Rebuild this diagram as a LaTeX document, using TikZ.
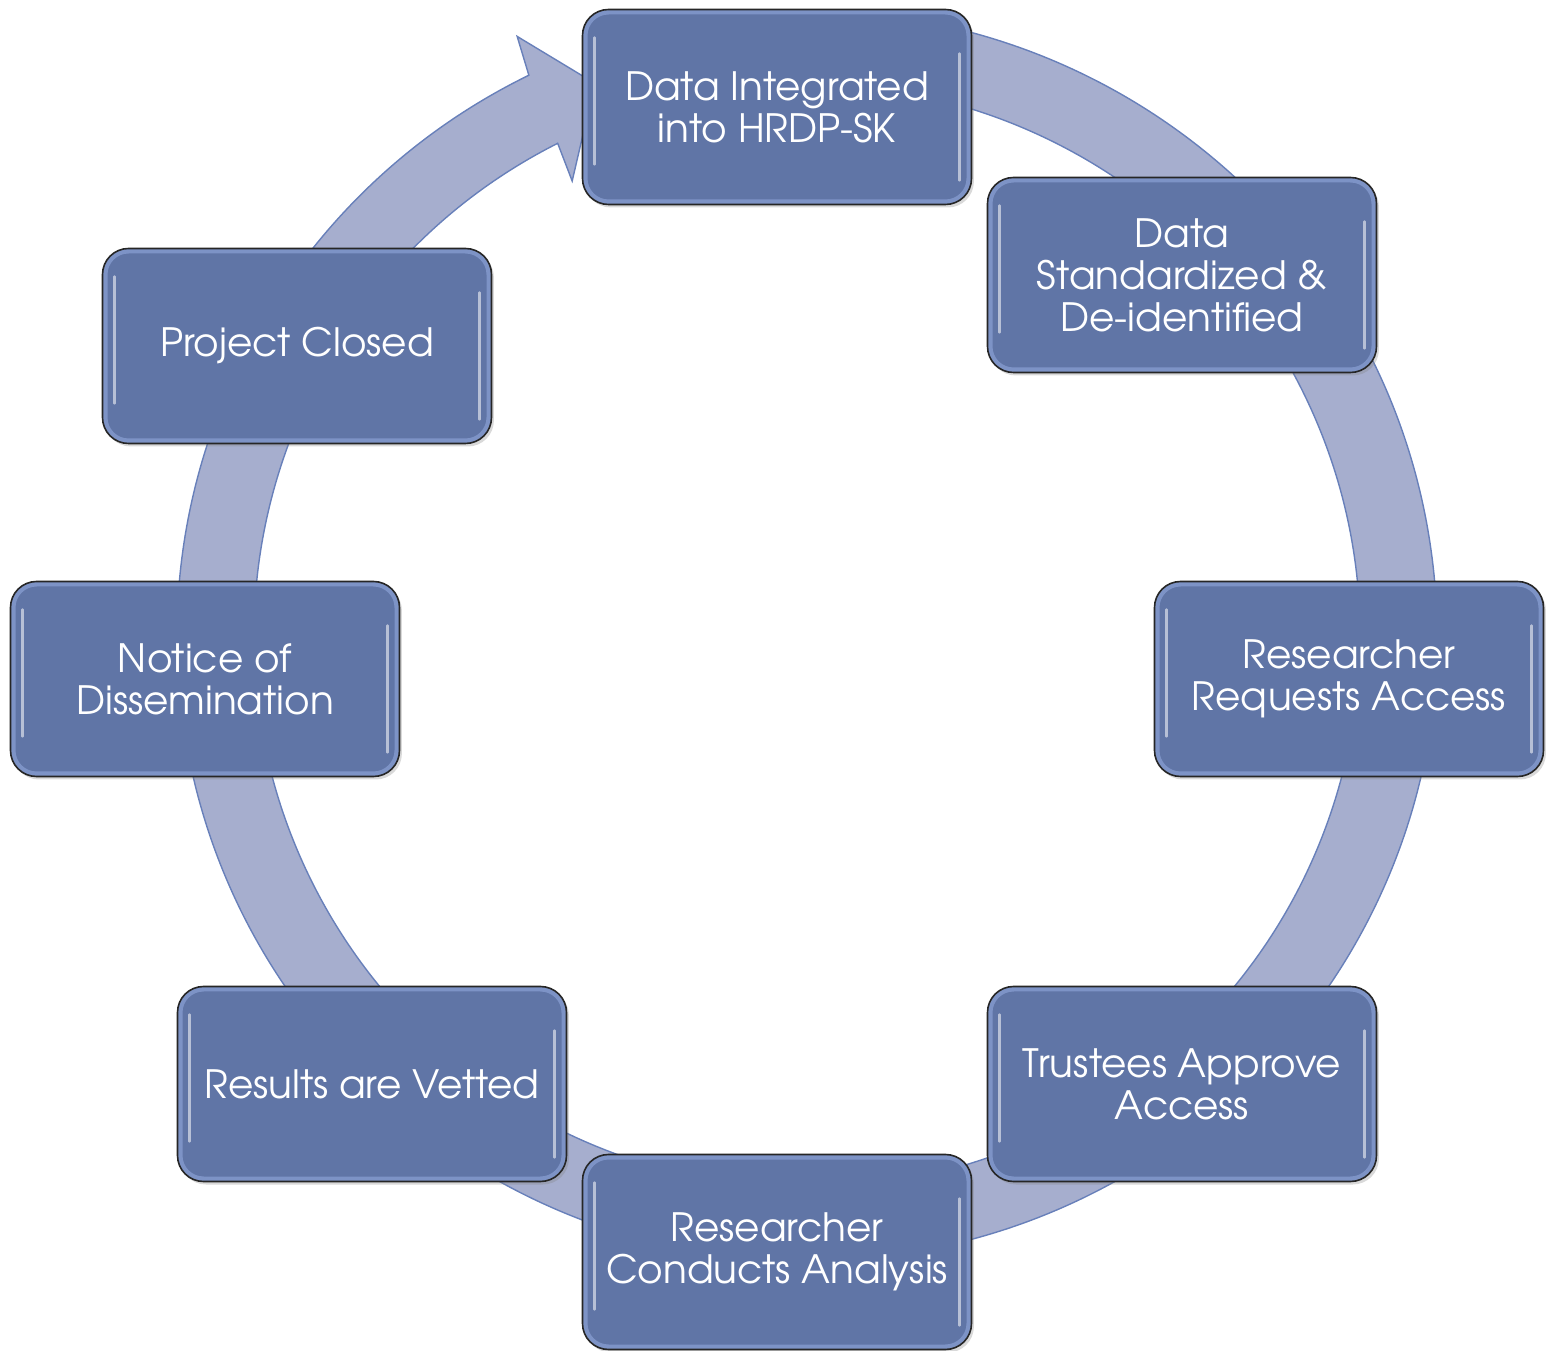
\documentclass[tikz,border=0pt]{standalone}
\usepackage{fontspec}
\setmainfont{TeX Gyre Adventor}
\usetikzlibrary{shadows,calc}
\definecolor{boxblue}{RGB}{96,117,166}
\definecolor{ringfill}{RGB}{166,174,206}
\definecolor{ringline}{RGB}{104,128,186}
\definecolor{glow}{RGB}{150,172,225}
\begin{document}
\begin{tikzpicture}[x=0.5pt,y=0.5pt,
  stage/.style={draw=black!85, line width=0.8pt, fill=boxblue, rounded corners=13pt,
    minimum width=194.5pt, minimum height=97.5pt, text=white, align=center,
    font=\fontsize{19.5}{21}\selectfont, inner sep=0pt,
    drop shadow={shadow xshift=1.2pt, shadow yshift=-1.5pt, opacity=0.3},
    path picture={
      \draw[glow, line width=5pt, opacity=0.55, rounded corners=13pt]
        (path picture bounding box.south west) rectangle (path picture bounding box.north east);
      \draw[white, line width=1.2pt, line cap=round, opacity=0.55]
        ([xshift=6pt,yshift=-14pt]path picture bounding box.north west) --
        ([xshift=6pt,yshift=20pt]path picture bounding box.south west);
      \draw[white, line width=1.2pt, line cap=round, opacity=0.55]
        ([xshift=-6pt,yshift=-22pt]path picture bounding box.north east) --
        ([xshift=-6pt,yshift=12pt]path picture bounding box.south east);
    }},
  ring/.style={fill=ringfill, draw=ringline, line width=0.7pt}]
\useasboundingbox (0,0) rectangle (1547,1350);
\coordinate (C) at (807,714);
\draw[ring] ($(C)+(100:630 and 625)$) arc[start angle=100, end angle=-243.8, x radius=630, y radius=625]
  -- ($(C)+(115.8:666)$) -- ($(C)+(111:592)$) -- ($(C)+(117.3:512)$)
  -- ($(C)+(116.8:553 and 552)$) arc[start angle=116.8, end angle=460, x radius=553, y radius=552] -- cycle;
\node[stage] (integ) at (777,1243) {Data Integrated\\into HRDP-SK};
\node[stage] (std) at (1182,1075) {Data\\Standardized \&\\De-identified};
\node[stage] (req) at (1349,671) {Researcher\\Requests Access};
\node[stage] (tru) at (1182,266) {Trustees Approve\\Access};
\node[stage] (cond) at (777,98) {Researcher\\Conducts Analysis};
\node[stage] (res) at (372,266) {Results are Vetted};
\node[stage] (notice) at (205,671) {Notice of\\Dissemination};
\node[stage] (closed) at (297,1004) {Project Closed};
\end{tikzpicture}
\end{document}
